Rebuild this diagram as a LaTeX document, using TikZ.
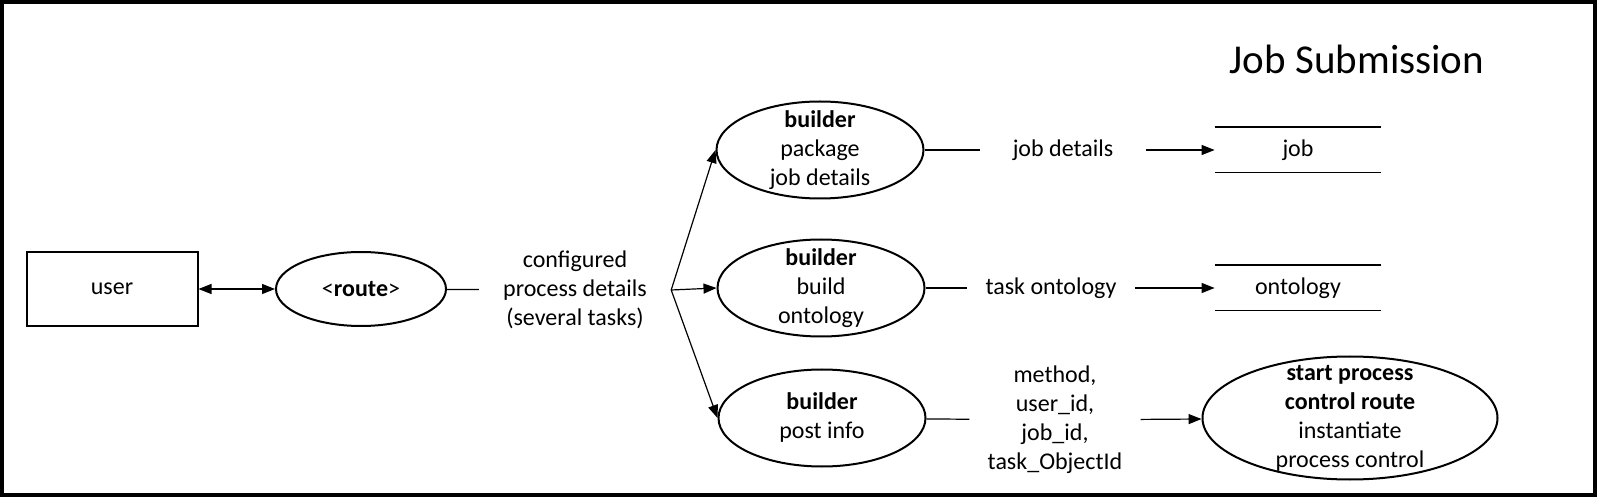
\documentclass[tikz,border=0pt]{standalone}
\usepackage{fontspec}
\setmainfont{Carlito}
\usetikzlibrary{shapes.geometric,arrows.meta}

\tikzset{
  proc/.style={draw, ellipse, line width=1pt, minimum width=103.5pt, minimum height=48.5pt, inner sep=0pt},
  txt/.style={align=center, font=\fontsize{12}{14.5}\selectfont, inner ysep=0pt, inner xsep=9pt},
  store/.style={minimum width=83pt, minimum height=22.5pt, inner sep=0pt, font=\fontsize{12}{14.5}\selectfont},
  flow/.style={line width=0.6pt},
  arr/.style={line width=0.6pt, -{Triangle[length=6.5pt,width=5pt]}},
  biarr/.style={line width=0.6pt, {Triangle[length=6.5pt,width=5pt]}-{Triangle[length=6.5pt,width=5pt]}},
}

\begin{document}
\begin{tikzpicture}[x=0.5pt,y=-0.5pt]
\useasboundingbox (0,0) rectangle (1597,497);
% Frame and title
\draw[line width=2pt] (2,2) rectangle (1595,495);
\node[txt, font=\fontsize{20.5}{24}\selectfont] (title) at (1357,59) {Job Submission};

% User and route
\node[draw, line width=1pt, minimum width=85.5pt, minimum height=37pt, txt, inner sep=0pt] (user) at (112,289) {user};
\node[proc, minimum width=85pt, minimum height=37pt, font=\fontsize{12}{14.5}\selectfont] (route) at (361,289) {<\textbf{route}>};
\node[txt, inner xsep=12pt] (cfg) at (575,290) {configured\\process details\\(several tasks)};

% The three builders
\node[proc] (b1) at (820,150) {};
\node[txt] (b1txt) at (b1) {\textbf{builder}\\package\\job details};
\node[proc] (b2) at (821,288) {};
\node[txt] (b2txt) at (b2) {\textbf{builder}\\build\\ontology};
\node[proc] (b3) at (822,418) {};
\node[txt] (b3txt) at (b3) {\textbf{builder}\\post info};

% What each builder hands on
\node[txt, inner xsep=16pt] (jd) at (1063,150) {job details};
\node[txt] (tont) at (1051,288) {task ontology};
\node[txt] (meth) at (1055,420) {method,\\user\_id,\\job\_id,\\task\_ObjectId};

% Stores and process control
\node[store] (job) at (1298,150) {job};
\node[store] (onto) at (1298,288) {ontology};
\node[proc, minimum width=147.5pt, minimum height=61.5pt] (start) at (1350,418) {};
\node[txt] (starttxt) at (start) {\textbf{start process}\\\textbf{control route}\\instantiate\\process control};

\draw[flow] (job.north west) -- (job.north east) (job.south west) -- (job.south east);
\draw[flow] (onto.north west) -- (onto.north east) (onto.south west) -- (onto.south east);

% Connectors
\draw[biarr] (user) -- (route);
\draw[flow] (route) -- (cfg);
\draw[arr] (cfg.east) -- (b1.west);
\draw[arr] (cfg.east) -- (b2.west);
\draw[arr] (cfg.east) -- (b3.west);
\draw[flow] (b1) -- (jd);
\draw[arr] (jd) -- (job);
\draw[flow] (b2) -- (tont);
\draw[arr] (tont) -- (onto);
\draw[flow] (b3) -- (meth);
\draw[arr] (meth) -- (start);
\end{tikzpicture}
\end{document}
